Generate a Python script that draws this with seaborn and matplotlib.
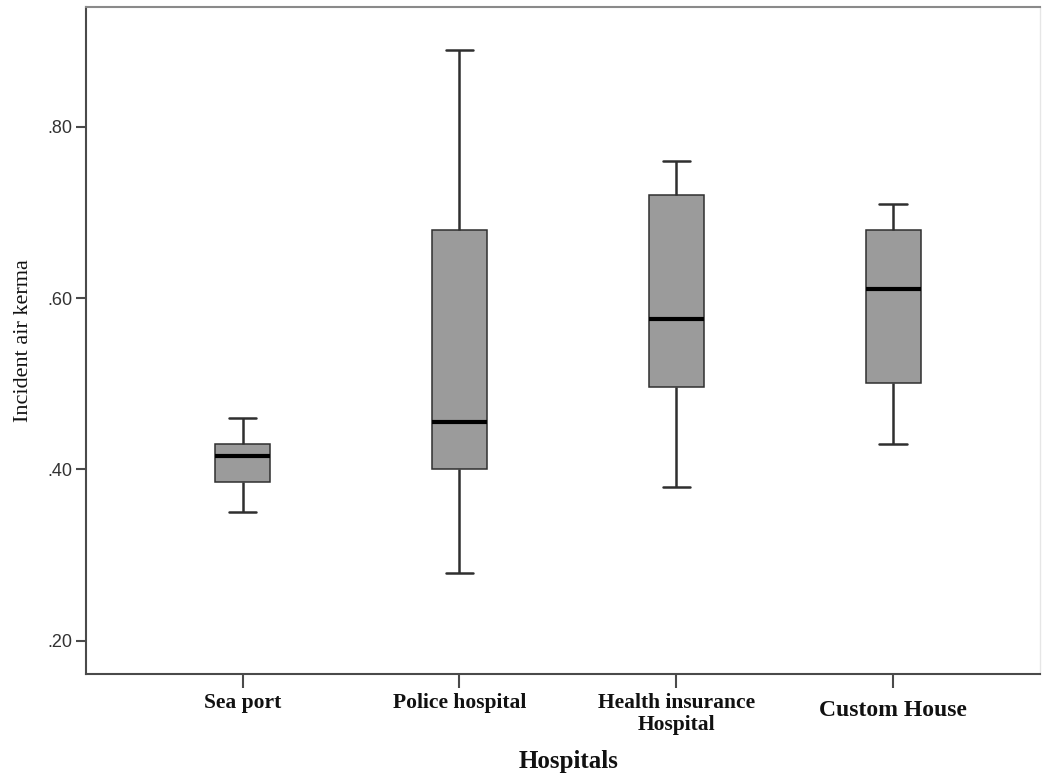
import matplotlib
matplotlib.use("Agg")
import matplotlib.pyplot as plt
import matplotlib.ticker as mticker
import matplotlib.transforms as mtransforms
import seaborn as sns
import pandas as pd

categories = ["Sea port", "Police hospital", "Health insurance\nHospital", "Custom House"]
# five-number summaries: min, Q1, median, Q3, max
sea_port = [0.350, 0.385, 0.415, 0.430, 0.460]
police_hospital = [0.279, 0.400, 0.455, 0.680, 0.890]
health_insurance = [0.379, 0.496, 0.575, 0.720, 0.760]
custom_house = [0.430, 0.501, 0.610, 0.680, 0.710]
y_ticks = [0.20, 0.40, 0.60, 0.80]
y_tick_labels = [".20", ".40", ".60", ".80"]

series = [sea_port, police_hospital, health_insurance, custom_house]
df = pd.DataFrame({
    "Hospitals": [c for c, s in zip(categories, series) for _ in s],
    "Incident air kerma": [v for s in series for v in s],
})

sns.set_style("white")
fig = plt.figure(figsize=(10.42, 7.84), dpi=100)
ax = fig.add_axes([0.0825, 0.1403, 0.9155, 0.8507])

sns.boxplot(
    data=df, x="Hospitals", y="Incident air kerma", order=categories,
    color="#9b9b9b", saturation=1, width=0.253, whis=(0, 100),
    linecolor="#2f2f2f", linewidth=1.1,
    medianprops=dict(color="black", linewidth=3.0),
    whiskerprops=dict(color="#2f2f2f", linewidth=1.8),
    capprops=dict(color="#2f2f2f", linewidth=1.8),
    ax=ax,
)

ax.set_ylim(0.1609, 0.9398)
ax.set_xlim(-0.7225, 3.677)
ax.yaxis.set_major_locator(mticker.FixedLocator(y_ticks))
ax.yaxis.set_major_formatter(mticker.FixedFormatter(y_tick_labels))

for side in ["left", "bottom", "top"]:
    ax.spines[side].set_visible(True)
    ax.spines[side].set_color("#4a4a4a")
    ax.spines[side].set_linewidth(1.5)
ax.spines["top"].set_color("#8a8a8a")
ax.spines["right"].set_color("#e6e6e6")
ax.spines["right"].set_linewidth(1.0)

ax.tick_params(axis="y", which="major", left=True, length=7.5, width=1.5,
               color="#4a4a4a", labelsize=13, pad=2, labelcolor="#333333")
ax.tick_params(axis="x", which="major", bottom=True, length=10, width=1.5,
               color="#4a4a4a", pad=4)
for lab in ax.get_yticklabels():
    lab.set_fontfamily("Liberation Sans")
for lab in ax.get_xticklabels():
    lab.set_fontfamily("Liberation Serif")
    lab.set_fontweight("bold")
    lab.set_fontsize(15.5)
    lab.set_linespacing(1.1)
    lab.set_color("#111111")
ch = ax.get_xticklabels()[3]
ch.set_fontsize(17)
ch.set_transform(ch.get_transform() + mtransforms.ScaledTranslation(0, -5 / 72, fig.dpi_scale_trans))

ax.set_xlabel("Hospitals", fontfamily="Liberation Serif", fontweight="bold",
              fontsize=18, color="#111111")
ax.xaxis.set_label_coords(0.506, -0.114)
ax.set_ylabel("Incident air kerma", fontfamily="Liberation Serif",
              fontsize=16, color="#111111")
ax.yaxis.set_label_coords(-0.055, 0.5)

fig.savefig("out.png", dpi=100, facecolor="white")
